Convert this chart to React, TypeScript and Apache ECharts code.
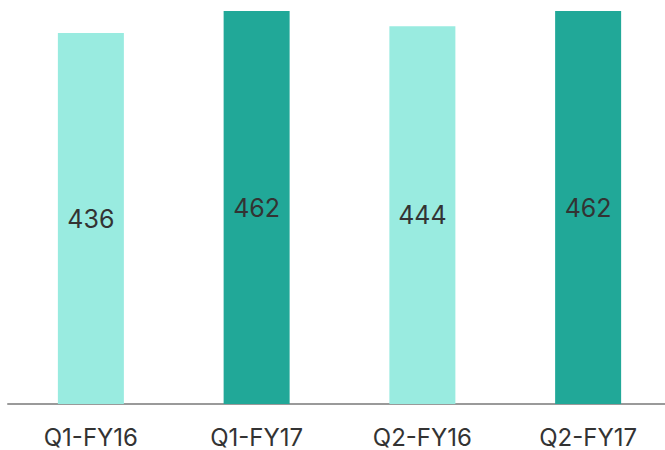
import React, { useEffect, useRef } from "react";
import * as echarts from "echarts";

const categories = ["Q1-FY16", "Q1-FY17", "Q2-FY16", "Q2-FY17"];
const values = [436, 462, 444, 462];
const barColors = ["#99EBE0", "#21A898", "#99EBE0", "#21A898"];

export default function App() {
  const ref = useRef<HTMLDivElement>(null);
  useEffect(() => {
    if (!ref.current) return;
    const chart = echarts.init(ref.current, null, { renderer: "svg" });
    chart.setOption({
      animation: false,
      grid: { left: 8, right: 9, top: 11, bottom: 46 },
      xAxis: {
        type: "category",
        data: categories,
        axisTick: { show: false },
        axisLine: { lineStyle: { color: "#9a9a9a", width: 2 } },
        axisLabel: {
          color: "#333333",
          fontSize: 24,
          fontFamily: "Inter, 'Noto Sans', sans-serif",
          margin: 21,
        },
      },
      yAxis: {
        type: "value",
        min: 0,
        max: 462,
        show: false,
        splitLine: { show: false },
      },
      series: [
        {
          type: "bar",
          barWidth: 66,
          data: values.map((v, i) => ({ value: v, itemStyle: { color: barColors[i] } })),
          label: {
            show: true,
            position: "inside",
            color: "#333333",
            fontSize: 25,
            fontFamily: "Inter, 'Noto Sans', sans-serif",
          },
        },
      ],
    });
    return () => chart.dispose();
  }, []);
  return (
    <div
      style={{
        position: "absolute",
        left: 0,
        top: 0,
        width: 665,
        height: 450,
        overflow: "hidden",
      }}
    >
      <div ref={ref} style={{ width: 680, height: 450 }} />
    </div>
  );
}
